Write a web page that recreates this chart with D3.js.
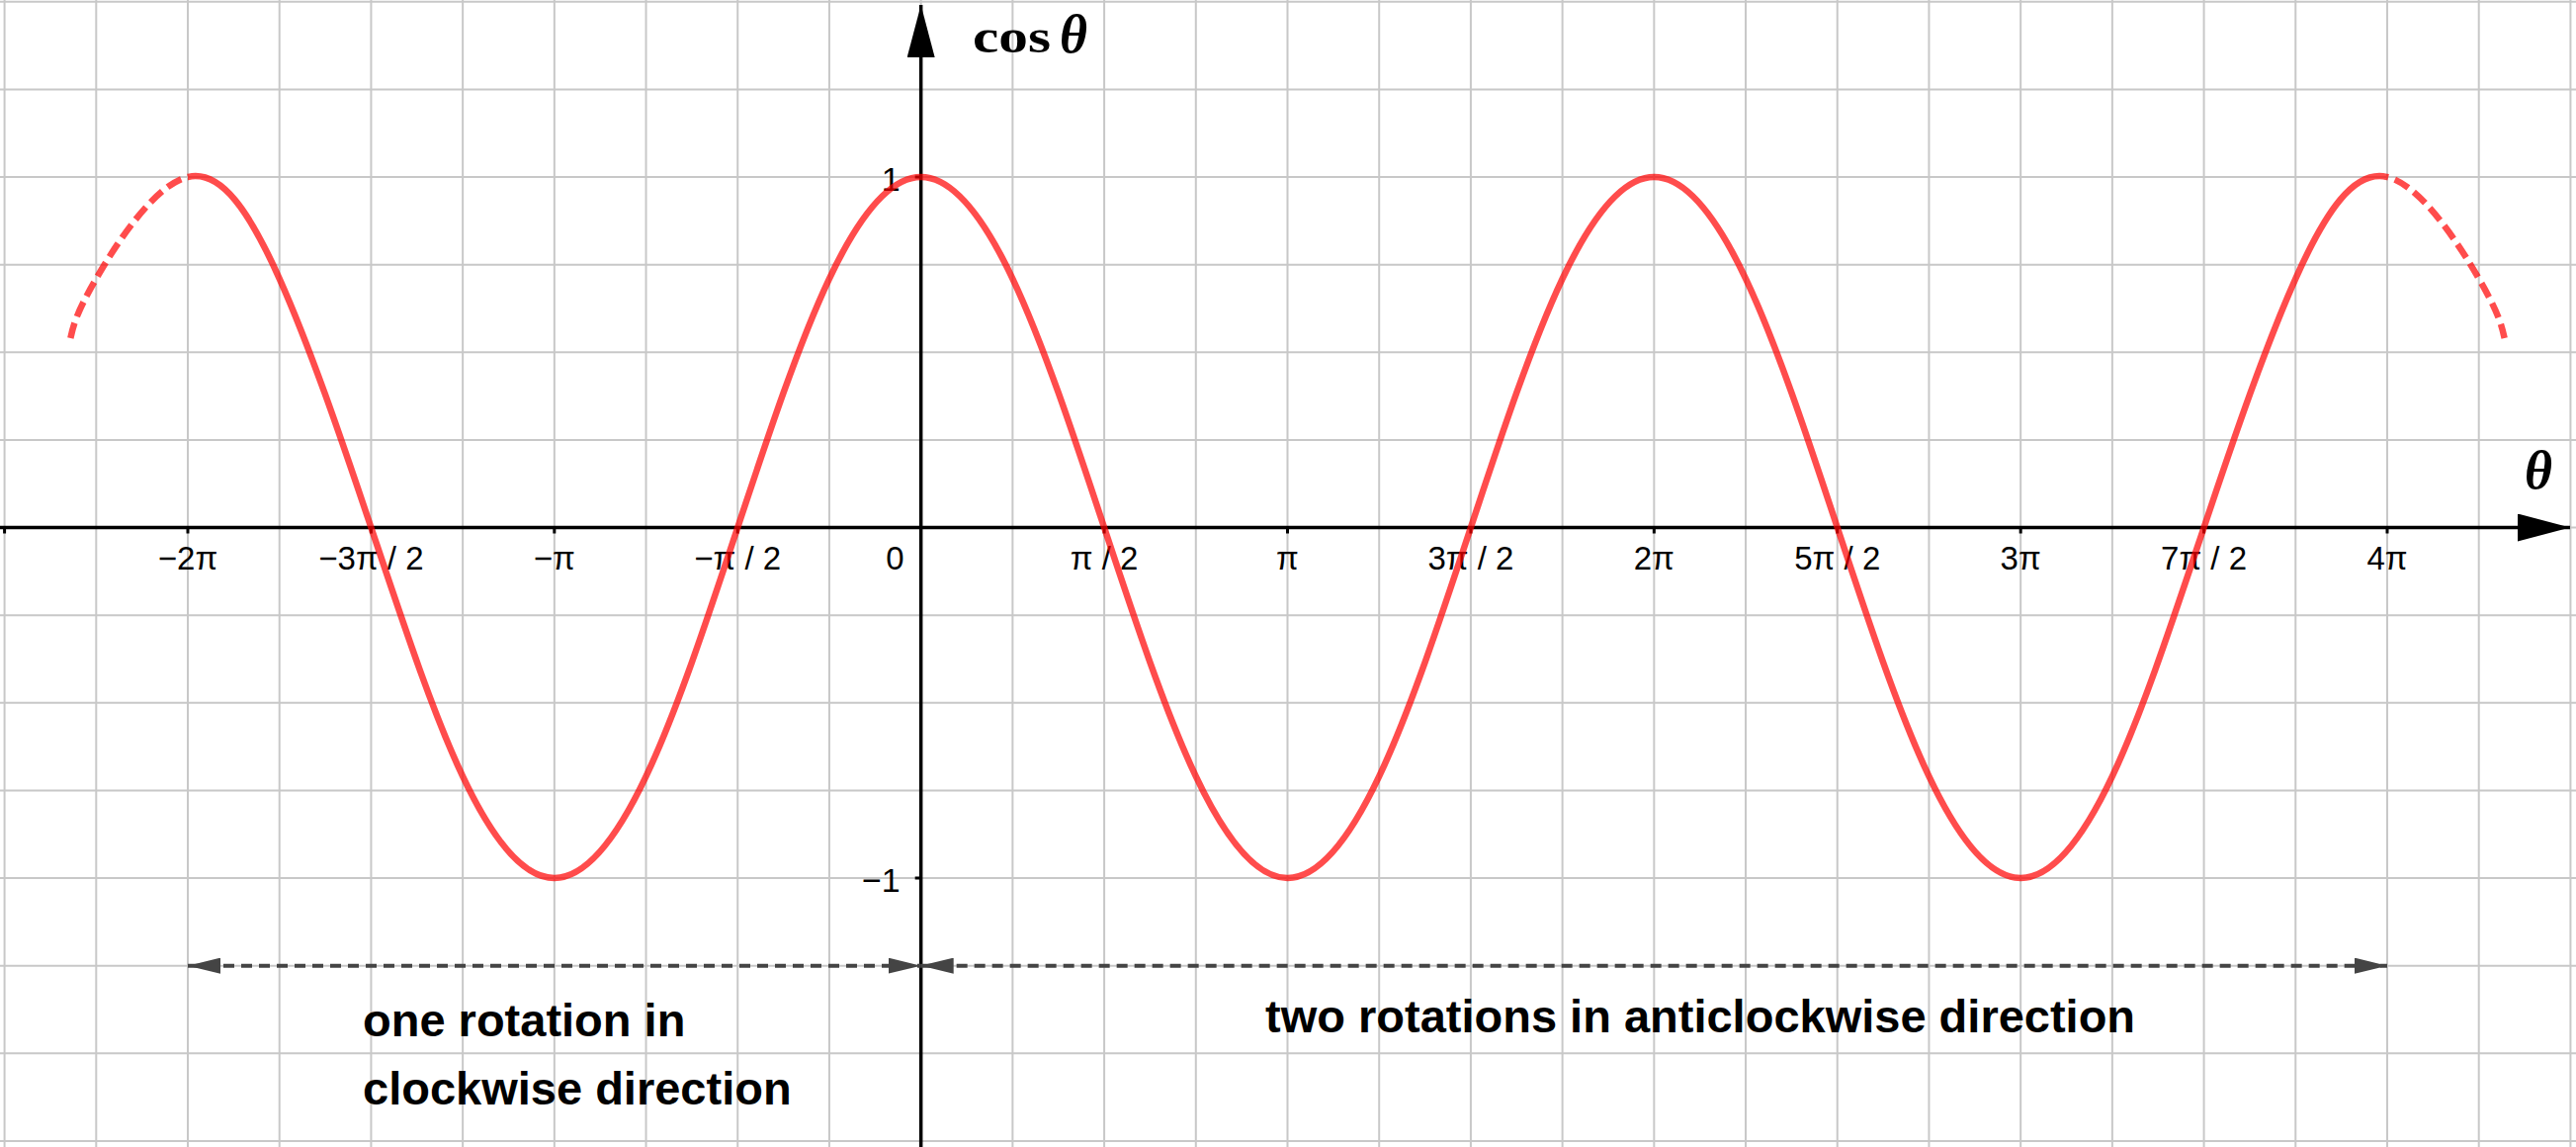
<!DOCTYPE html>
<html>
<head>
<meta charset="utf-8">
<script src="https://cdn.jsdelivr.net/npm/d3@7"></script>
<style>
  html, body { margin: 0; padding: 0; background: #fff; }
  svg { display: block; }
  .tick-label { font-family: "Liberation Sans", Arial, sans-serif; fill: #000; }
  .note { font-family: "Liberation Sans", Arial, sans-serif; font-weight: bold; font-size: 47px; fill: #000; }
</style>
</head>
<body>
<div id="chart"></div>
<script>
// theta in multiples of pi, cos values
const thetaPi = [-2.32, -2.25, -2, -1.75, -1.5, -1.25, -1, -0.75, -0.5, -0.25, 0, 0.25, 0.5, 0.75, 1,
  1.25, 1.5, 1.75, 2, 2.25, 2.5, 2.75, 3, 3.25, 3.5, 3.75, 4, 4.25, 4.32];
const cosVals = [0.54, 0.71, 1, 0.71, 0, -0.71, -1, -0.71, 0, 0.71, 1, 0.71, 0, -0.71, -1,
  -0.71, 0, 0.71, 1, 0.71, 0, -0.71, -1, -0.71, 0, 0.71, 1, 0.71, 0.54];

// solid part of the curve, in multiples of pi
const solidRange = [-2, 4];

const xTickPi = [-2, -1.5, -1, -0.5, 0, 0.5, 1, 1.5, 2, 2.5, 3, 3.5, 4];
const xTickLabels = ['−2π', '−3π / 2', '−π', '−π / 2', '0', 'π / 2', 'π', '3π / 2', '2π', '5π / 2', '3π', '7π / 2', '4π'];
const yTickVals = [1, -1];
const yTickLabels = ['1', '−1'];

// rotation arrows: [from, to] in multiples of pi, drawn at cos = -1.25
const rotationSpans = [[-2, 0], [0, 4]];
const rotationLevel = -1.25;

const width = 2606;
const height = 1160;

const x = d3.scaleLinear().domain([-2, 4]).range([190, 2415]);
const y = d3.scaleLinear().domain([-1, 1]).range([888, 179]);

const svg = d3.select('#chart')
  .append('svg')
  .attr('width', width)
  .attr('height', height);

const defs = svg.append('defs');

defs.append('marker')
  .attr('id', 'axis-head')
  .attr('markerUnits', 'userSpaceOnUse')
  .attr('viewBox', '0 0 53 28')
  .attr('markerWidth', 53)
  .attr('markerHeight', 28)
  .attr('refX', 53)
  .attr('refY', 14)
  .attr('orient', 'auto')
  .append('path')
  .attr('d', 'M0,0 L53,14 L0,28 Z')
  .attr('fill', '#000');

defs.append('marker')
  .attr('id', 'span-head')
  .attr('markerUnits', 'userSpaceOnUse')
  .attr('viewBox', '0 0 33 16')
  .attr('markerWidth', 33)
  .attr('markerHeight', 16)
  .attr('refX', 33)
  .attr('refY', 8)
  .attr('orient', 'auto-start-reverse')
  .append('path')
  .attr('d', 'M0,0 L33,8 L0,16 Z')
  .attr('fill', '#444');

// clip regions for solid / dashed parts
defs.append('clipPath').attr('id', 'clip-solid')
  .append('rect')
  .attr('x', x(solidRange[0])).attr('y', 0)
  .attr('width', x(solidRange[1]) - x(solidRange[0])).attr('height', height);

const dashClip = defs.append('clipPath').attr('id', 'clip-dashed');
dashClip.append('rect')
  .attr('x', 0).attr('y', 0)
  .attr('width', x(solidRange[0])).attr('height', height);
dashClip.append('rect')
  .attr('x', x(solidRange[1])).attr('y', 0)
  .attr('width', width - x(solidRange[1])).attr('height', height);

/**
 * Grid (every pi/4 across, every 0.25 up)
 */

const xGridVals = d3.range(Math.ceil(x.invert(0) * 4), Math.floor(x.invert(width) * 4) + 1).map(d => d / 4);
const yGridVals = d3.range(Math.ceil(y.invert(height) * 4), Math.floor(y.invert(0) * 4) + 1).map(d => d / 4);

const grid = svg.append('g')
  .attr('stroke', '#c8c8c8')
  .attr('stroke-width', 2);

grid.selectAll('.vgrid')
  .data(xGridVals)
  .enter()
  .append('line')
  .attr('x1', d => x(d)).attr('x2', d => x(d))
  .attr('y1', 0).attr('y2', height);

grid.selectAll('.hgrid')
  .data(yGridVals)
  .enter()
  .append('line')
  .attr('y1', d => y(d)).attr('y2', d => y(d))
  .attr('x1', 0).attr('x2', width);

/**
 * Axes
 */

svg.append('line')
  .attr('x1', 0).attr('x2', 2600)
  .attr('y1', y(0)).attr('y2', y(0))
  .attr('stroke', '#000')
  .attr('stroke-width', 3.5)
  .attr('marker-end', 'url(#axis-head)');

svg.append('line')
  .attr('x1', x(0)).attr('x2', x(0))
  .attr('y1', height).attr('y2', 5)
  .attr('stroke', '#000')
  .attr('stroke-width', 3.5)
  .attr('marker-end', 'url(#axis-head)');

// x ticks (plus the unlabelled one at the left edge)
const xTickMarks = [-2.5].concat(xTickPi);
svg.append('g')
  .selectAll('line')
  .data(xTickMarks.filter(d => d !== 0))
  .enter()
  .append('line')
  .attr('x1', d => x(d)).attr('x2', d => x(d))
  .attr('y1', y(0)).attr('y2', y(0) + 6)
  .attr('stroke', '#000')
  .attr('stroke-width', 3);

svg.append('g')
  .selectAll('text')
  .data(xTickPi)
  .enter()
  .append('text')
  .attr('class', 'tick-label')
  .attr('x', d => d === 0 ? x(0) - 17 : x(d))
  .attr('y', y(0) + 42)
  .attr('text-anchor', d => d === 0 ? 'end' : 'middle')
  .attr('font-size', 33)
  .text((d, i) => xTickLabels[i]);

svg.append('g')
  .selectAll('line')
  .data(yTickVals)
  .enter()
  .append('line')
  .attr('x1', x(0) - 6).attr('x2', x(0))
  .attr('y1', d => y(d)).attr('y2', d => y(d))
  .attr('stroke', '#000')
  .attr('stroke-width', 3);

svg.append('g')
  .selectAll('text')
  .data(yTickVals)
  .enter()
  .append('text')
  .attr('class', 'tick-label')
  .attr('x', x(0) - 21)
  .attr('y', d => y(d) + 14)
  .attr('text-anchor', 'end')
  .attr('font-size', 34)
  .text((d, i) => yTickLabels[i]);

// axis titles
const yTitle = svg.append('text')
  .attr('x', 984)
  .attr('y', 53)
  .attr('font-family', '"Liberation Serif", "Times New Roman", serif')
  .attr('font-weight', 'bold')
  .attr('fill', '#000');

yTitle.append('tspan')
  .attr('font-size', 48)
  .attr('textLength', 79)
  .attr('lengthAdjust', 'spacingAndGlyphs')
  .text('cos');

yTitle.append('tspan')
  .attr('x', 1072)
  .attr('font-size', 54)
  .attr('font-style', 'italic')
  .text('θ');

svg.append('text')
  .attr('x', 2554)
  .attr('y', 494)
  .attr('font-family', '"Liberation Serif", "Times New Roman", serif')
  .attr('font-weight', 'bold')
  .attr('font-style', 'italic')
  .attr('font-size', 54)
  .attr('fill', '#000')
  .text('θ');

/**
 * Curve
 */

const points = thetaPi.map((t, i) => [t, cosVals[i]]);

const line = d3.line()
  .x(d => x(d[0]))
  .y(d => y(d[1]))
  .curve(d3.curveNatural);

svg.append('path')
  .datum(points)
  .attr('d', line)
  .attr('fill', 'none')
  .attr('stroke', '#ff0000')
  .attr('stroke-opacity', 0.7)
  .attr('stroke-width', 6.5)
  .attr('clip-path', 'url(#clip-solid)');

svg.append('path')
  .datum(points)
  .attr('d', line)
  .attr('fill', 'none')
  .attr('stroke', '#ff0000')
  .attr('stroke-opacity', 0.7)
  .attr('stroke-width', 6.5)
  .attr('stroke-dasharray', '16,7')
  .attr('clip-path', 'url(#clip-dashed)');

/**
 * Rotation arrows and notes
 */

svg.append('g')
  .selectAll('line')
  .data(rotationSpans)
  .enter()
  .append('line')
  .attr('x1', d => x(d[0])).attr('x2', d => x(d[1]))
  .attr('y1', y(rotationLevel)).attr('y2', y(rotationLevel))
  .attr('stroke', '#444')
  .attr('stroke-width', 4)
  .attr('stroke-dasharray', '11,7')
  .attr('marker-start', 'url(#span-head)')
  .attr('marker-end', 'url(#span-head)');

svg.append('text').attr('class', 'note').attr('x', 367).attr('y', 1048).text('one rotation in');
svg.append('text').attr('class', 'note').attr('x', 367).attr('y', 1117).text('clockwise direction');
svg.append('text').attr('class', 'note').attr('x', 1280).attr('y', 1044).text('two rotations in anticlockwise direction');
</script>
</body>
</html>
